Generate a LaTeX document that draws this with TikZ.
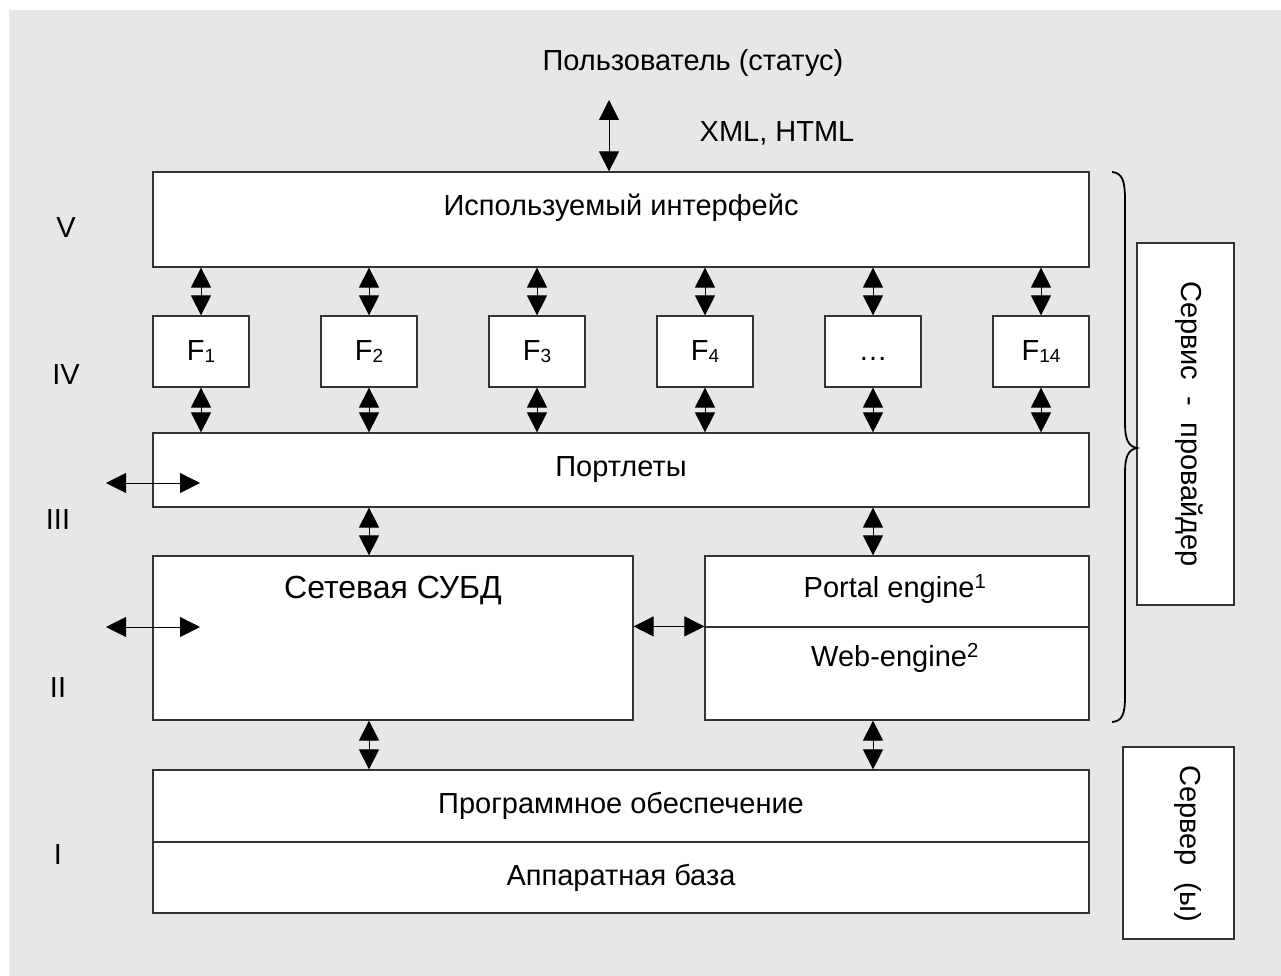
\documentclass[tikz,border=0pt]{standalone}
\usepackage{fontspec}
\setmainfont{Liberation Sans}
\usetikzlibrary{arrows.meta, positioning}

\newcommand{\fsub}[1]{F{\fontsize{19}{20}\selectfont\raisebox{-2pt}{#1}}}

\tikzset{
    box/.style={draw=black!80, line width=1.2pt, fill=white, inner sep=0pt},
    fbox/.style={box, minimum width=96pt, minimum height=71pt},
    dbl/.style={{Triangle[length=20pt,width=20pt]}-{Triangle[length=20pt,width=20pt]}, line width=0.9pt},
}

\begin{document}
\begin{tikzpicture}[x=1pt, y=-1pt, font=\fontsize{29}{34}\selectfont]
    \useasboundingbox (0,0) rectangle (1281,976);
    \fill[fill={rgb,255:red,230;green,231;blue,233}] (9,10) rectangle (1281,976);

    % user side
    \node (user) at (693,63) {Пользователь (статус)};
    \node (xml)  at (777,133) {XML, HTML};

    % layers
    \node (iface) [box, minimum width=936pt, minimum height=95pt] at (621,219.5) {};
    \node (ifacet) at (621,208) {Используемый интерфейс};

    \node (f1) [fbox] at (201,351.5) {\fsub{1}};
    \node (f2) [fbox] at (369,351.5) {\fsub{2}};
    \node (f3) [fbox] at (537,351.5) {\fsub{3}};
    \node (f4) [fbox] at (705,351.5) {\fsub{4}};
    \node (f5) [fbox] at (873,351.5) {\vphantom{\fsub{1}}\dots};
    \node (f6) [fbox] at (1041,351.5) {\fsub{14}};

    \node (portl) [box, minimum width=936pt, minimum height=74pt] at (621,470) {Портлеты};

    \node (subd)  [box, minimum width=480pt, minimum height=164pt] at (393,638) {};
    \node (subdt) [font=\fontsize{32}{38}\selectfont] at (393,591) {Сетевая СУБД};

    \node (portal)  [box, minimum width=384pt, minimum height=71pt] at (897,591.5) {};
    \node (portalt) at (895,589) {Portal engine\textsuperscript{1}};
    \node (web)     [box, minimum width=384pt, minimum height=93pt] at (897,673.5) {};
    \node (webt)    at (895,658) {Web-engine\textsuperscript{2}};

    \node (soft) [box, minimum width=936pt, minimum height=72pt] at (621,806) {Программное обеспечение};
    \node (hw)   [box, minimum width=936pt, minimum height=71pt] at (621,877.5) {Аппаратная база};

    % roman level labels
    \node (l5) at (66,228) {V};
    \node (l4) at (66,375) {IV};
    \node (l3) at (58,520) {III};
    \node (l2) at (58,688) {II};
    \node (l1) at (58,855) {I};

    % right side
    \node (prov)  [box, minimum width=97pt, minimum height=362pt] at (1185.5,424) {};
    \node (provt) [rotate=-90] at (1189,424) {Сервис~~-~~провайдер};
    \node (serv)  [box, minimum width=111pt, minimum height=192pt] at (1178.5,843) {};
    \node (servt) [rotate=-90] at (1188,844) {Сервер~~(ы)};

    \draw[line width=1.8pt] (1112,172) .. controls (1122,173) and (1125,180) .. (1125,200)
        -- (1125,422) .. controls (1125,440) and (1128,446) .. (1137,448)
        .. controls (1128,450) and (1125,456) .. (1125,474)
        -- (1125,696) .. controls (1125,715) and (1122,721) .. (1112,722);

    % connectors
    \coordinate (usr) at (609,100);
    \draw[dbl] (usr) -- (usr |- iface.north);

    \draw[dbl] (iface.south -| f1) -- (f1.north);
    \draw[dbl] (iface.south -| f2) -- (f2.north);
    \draw[dbl] (iface.south -| f3) -- (f3.north);
    \draw[dbl] (iface.south -| f4) -- (f4.north);
    \draw[dbl] (iface.south -| f5) -- (f5.north);
    \draw[dbl] (iface.south -| f6) -- (f6.north);

    \draw[dbl] (f1.south) -- (portl.north -| f1);
    \draw[dbl] (f2.south) -- (portl.north -| f2);
    \draw[dbl] (f3.south) -- (portl.north -| f3);
    \draw[dbl] (f4.south) -- (portl.north -| f4);
    \draw[dbl] (f5.south) -- (portl.north -| f5);
    \draw[dbl] (f6.south) -- (portl.north -| f6);

    \draw[dbl] (portl.south -| f2) -- (subd.north -| f2);
    \draw[dbl] (portl.south -| f5) -- (portal.north -| f5);
    \draw[dbl] (subd.east |- web.north) -- (web.north west);
    \draw[dbl] (subd.south -| f2) -- (soft.north -| f2);
    \draw[dbl] (web.south -| f5) -- (soft.north -| f5);

    \coordinate (in3a) at (106,483);
    \coordinate (in3b) at (200,483);
    \coordinate (in2a) at (106,627);
    \coordinate (in2b) at (200,627);
    \draw[dbl] (in3a) -- (in3b);
    \draw[dbl] (in2a) -- (in2b);
\end{tikzpicture}
\end{document}
